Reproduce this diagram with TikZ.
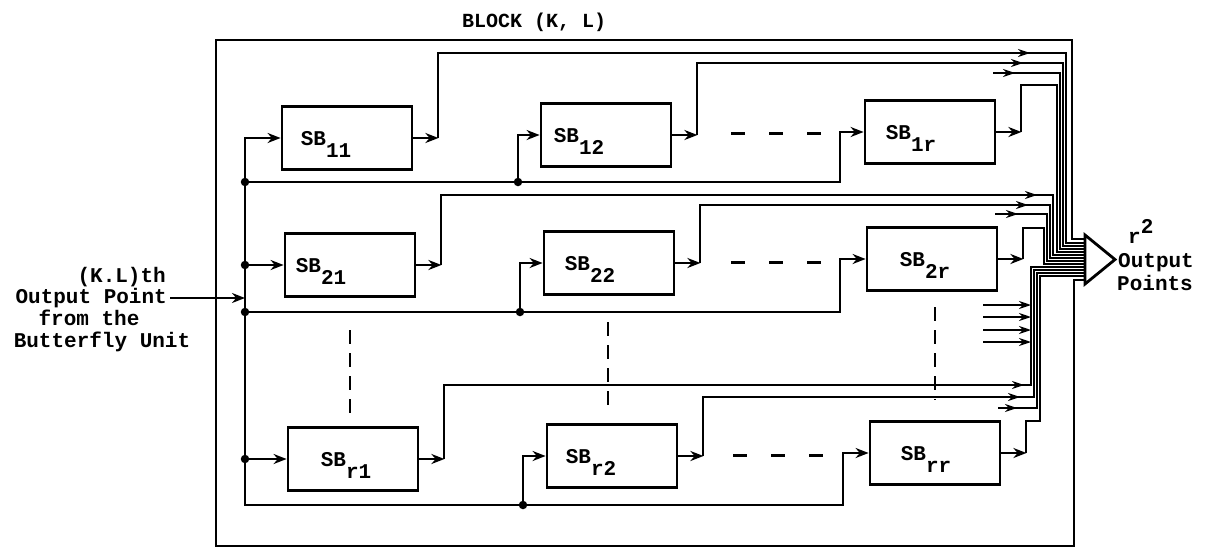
\documentclass[tikz,border=0pt]{standalone}
\usepackage{fontspec}
\setmonofont{Liberation Mono}
\usetikzlibrary{arrows.meta}
\newcommand\sbtxt[1]{SB\raisebox{-12pt}{#1}}
\tikzset{
 sbbox/.style={draw, line width=2.8pt, minimum width=130pt, minimum height=63pt, inner sep=0pt},
 wire/.style={line width=2.8pt},
 arr/.style={wire, -{Stealth[length=13pt,width=10pt]}},
 busl/.style={line width=1.9pt},
 busarr/.style={line width=1.9pt, -{Stealth[length=12pt,width=8pt]}},
 jdot/.style={circle, fill, inner sep=0pt, minimum size=8.5pt},
 lab/.style={font=\ttfamily\bfseries\fontsize{21}{24}\selectfont, inner sep=0pt},
 vdash/.style={line width=2.6pt, dash pattern=on 14pt off 9pt},
 hdash/.style={line width=3pt, dash pattern=on 14pt off 24pt},
}
\begin{document}
\begin{tikzpicture}[x=1pt,y=-1pt]
\useasboundingbox (0,0) rectangle (1207,552);

% output triangle and block border
\coordinate (tA) at (1085,235);
\coordinate (tB) at (1115,259.5);
\coordinate (tC) at (1085,284);
\draw[wire] (tA) -- (tB) -- (tC) -- cycle;
\draw[wire] (1085,239) -- (1072,239) -- (1072,40) -- (216,40) -- (216,546) -- (1074,546) -- (1074,280) -- (1085,280);

% boxes
\node[sbbox] (sb11) at (347,138) {};
\node[sbbox] (sb12) at (606,135) {};
\node[sbbox] (sb1r) at (930,132) {};
\node[sbbox] (sb21) at (350,265) {};
\node[sbbox] (sb22) at (609,263) {};
\node[sbbox] (sb2r) at (932,259) {};
\node[sbbox] (sbr1) at (353,459) {};
\node[sbbox] (sbr2) at (612,456) {};
\node[sbbox] (sbrr) at (935,453) {};

% box labels
\node[lab, anchor=base west] (l11) at ([xshift=20pt,yshift=-7pt]sb11.west) {\sbtxt{11}};
\node[lab, anchor=base west] (l12) at ([xshift=14pt,yshift=-7pt]sb12.west) {\sbtxt{12}};
\node[lab, anchor=base west] (l1r) at ([xshift=22pt,yshift=-7pt]sb1r.west) {\sbtxt{1r}};
\node[lab, anchor=base west] (l21) at ([xshift=12pt,yshift=-7pt]sb21.west) {\sbtxt{21}};
\node[lab, anchor=base west] (l22) at ([xshift=22pt,yshift=-7pt]sb22.west) {\sbtxt{22}};
\node[lab, anchor=base west] (l2r) at ([xshift=34pt,yshift=-7pt]sb2r.west) {\sbtxt{2r}};
\node[lab, anchor=base west] (lr1) at ([xshift=34pt,yshift=-7pt]sbr1.west) {\sbtxt{r1}};
\node[lab, anchor=base west] (lr2) at ([xshift=20pt,yshift=-7pt]sbr2.west) {\sbtxt{r2}};
\node[lab, anchor=base west] (lrr) at ([xshift=32pt,yshift=-7pt]sbrr.west) {\sbtxt{rr}};

% left input bus
\coordinate (lb1) at (245,138);
\coordinate (lbf1) at (245,182);
\coordinate (lb2) at (245,265);
\coordinate (lbin) at (245,298);
\coordinate (lbf2) at (245,312);
\coordinate (lbr) at (245,459);
\coordinate (lbfr) at (245,505);
\coordinate (f12) at (518,182);
\coordinate (f1r) at (840,182);
\coordinate (f22) at (520,312);
\coordinate (f2r) at (840,312);
\coordinate (fr2) at (523,505);
\coordinate (frr) at (843,505);

\draw[wire, {Stealth[length=13pt,width=10pt]}-{Stealth[length=13pt,width=10pt]}]
  (sbrr.west) -| (frr) -- (lbfr) -- (lb1) -- (sb11.west);
\draw[arr] (lbf1) -- (f1r) |- (sb1r.west);
\draw[arr] (f12) |- (sb12.west);
\draw[arr] (lb2) -- (sb21.west);
\draw[arr] (lbf2) -- (f2r) |- (sb2r.west);
\draw[arr] (f22) |- (sb22.west);
\draw[arr] (lbr) -- (sbr1.west);
\draw[arr] (fr2) |- (sbr2.west);
\foreach \p in {lbf1,f12,lb2,lbf2,f22,lbr,fr2} \node[jdot] (dot-\p) at (\p) {};

% left labels and input
\node[lab, anchor=base east] (lbl1) at (166,282) {(K.L)th};
\node[lab, anchor=base east] (lbl2) at (167,303) {Output Point};
\node[lab, anchor=base] (lbl3) at (89,325) {from the};
\node[lab, anchor=base] (lbl4) at (102,347) {Butterfly Unit};
\coordinate (inS) at (lbl2.east |- lbin);
\draw[arr] ([xshift=3pt]inS) -- (lbin);

% other labels
\node[lab, font=\ttfamily\bfseries\fontsize{20}{24}\selectfont, anchor=base west] (blk) at (462,27) {BLOCK (K, L)};
\node[lab, anchor=base west] (rsq) at (1128,243) {r\raisebox{10pt}{2}};
\node[lab, anchor=base] (outl) at (1156,267) {Output};
\node[lab, anchor=base] (ptsl) at (1155,290) {Points};

% box outputs
\coordinate (c11) at ([xshift=25pt]sb11.east);
\coordinate (c12) at ([xshift=25pt]sb12.east);
\coordinate (c1r) at ([xshift=25pt]sb1r.east);
\coordinate (c21) at ([xshift=25pt]sb21.east);
\coordinate (c22) at ([xshift=25pt]sb22.east);
\coordinate (c2r) at ([xshift=25pt]sb2r.east);
\coordinate (cr1) at ([xshift=25pt]sbr1.east);
\coordinate (cr2) at ([xshift=25pt]sbr2.east);
\coordinate (crr) at ([xshift=25pt]sbrr.east);
\foreach \b in {11,12,1r,21,22,2r,r1,r2,rr} \draw[arr] (sb\b.east) -- (c\b);

% horizontal dashes
\draw[hdash] (731,133) -- (821,133);
\draw[hdash] (731,262) -- (821,262);
\draw[hdash] (733,455) -- (823,455);
% vertical dashes
\draw[vdash] (350,330) -- (350,415);
\draw[vdash] (608,322) -- (608,405);
\draw[vdash] (935,307) -- (935,400);

% bus, row 1
\coordinate (s1) at (993,73);
\draw[busl] (c11) |- (1066,53) |- (1085,243);
\draw[busl] (c12) |- (1063,63) |- (1085,246);
\draw[busl] (s1) -- (1060,73) |- (1085,249);
\draw[busl] (c1r) |- (1057,85) |- (1085,252);
\draw[busarr] (1012,53) -- (1030,53);
\draw[busarr] (1005,63) -- (1023,63);
\draw[busarr] (998,73) -- (1015,73);
% bus, row 2
\coordinate (s2) at (995,214);
\draw[busl] (c21) |- (1053,195) |- (1085,255);
\draw[busl] (c22) |- (1050,205) |- (1085,258);
\draw[busl] (s2) -- (1047,214) |- (1085,261);
\draw[busl] (c2r) |- (1044,228) |- (1085,264);
\draw[busarr] (1019,195) -- (1037,195);
\draw[busarr] (1010,205) -- (1028,205);
\draw[busarr] (1000,214) -- (1018,214);
% bus, row r
\coordinate (s3) at (998,408);
\draw[busl] (cr1) |- (1031,385) |- (1085,267);
\draw[busl] (cr2) |- (1034,397) |- (1085,270);
\draw[busl] (s3) -- (1037,408) |- (1085,273);
\draw[busl] (crr) |- (1040,421) |- (1085,276);
\draw[busarr] (1006,385) -- (1024,385);
\draw[busarr] (1002,397) -- (1020,397);
\draw[busarr] (1000,408) -- (1017,408);
% further rows joining the bus
\foreach \yy in {305,317,330,342} \draw[busarr] (983,\yy) -- (1031,\yy);
\end{tikzpicture}
\end{document}
